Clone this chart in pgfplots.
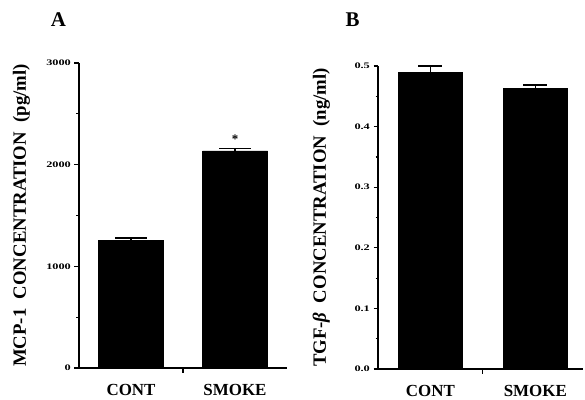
\documentclass[border=0pt]{standalone}
\usepackage{fontspec}
\setmainfont{Liberation Serif}
\usepackage{pgfplots}
\pgfplotsset{compat=1.18}
\begin{document}
\begin{tikzpicture}[x=1bp,y=1bp]
\useasboundingbox (0,0) rectangle (585,399);
\pgfplotsset{
  panel/.style={
    scale only axis,
    anchor=south west,
    axis lines=left,
    axis line style={-, line width=1.5bp, black},
    tick align=outside,
    major tick length=4.5bp,
    minor tick length=2.5bp,
    tick style={line width=1.2bp, black},
    xtick={1,2},
    xtick style={draw=none},
    extra x ticks={1.5},
    extra x tick labels={},
    extra x tick style={xtick style={draw=black, line width=1.2bp}},
    xticklabel style={font=\bfseries\fontsize{17}{19}\selectfont, anchor=base, yshift=-22.5bp, inner sep=0pt},
    yticklabel style={font=\bfseries\fontsize{8.5}{10}\selectfont, xscale=1.45, anchor=east, xshift=1bp},
    /pgf/number format/assume math mode=true,
    /pgf/number format/1000 sep={},
    every axis y label/.style={rotate=90, anchor=base, inner sep=0pt, font=\bfseries\fontsize{18.8}{20}\selectfont},
    clip=false,
  },
}
% Panel B
\node[font=\bfseries\fontsize{21}{24}\selectfont, anchor=base] at (352.5,372.5) {B};
\begin{scope}[shift={(378,30)}]
\begin{axis}[panel,
  at={(0,0)}, width=205bp, height=303bp,
  xmin=0.5, xmax=2.455, ymin=0, ymax=0.5,
  ytick={0,0.1,0.2,0.3,0.4,0.5}, minor ytick={0.05,0.15,0.25,0.35,0.45},
  yticklabel style={/pgf/number format/fixed, /pgf/number format/fixed zerofill, /pgf/number format/precision=1},
  xticklabels={CONT,SMOKE},
  every axis y label/.append style={at={(axis description cs:-0.254,0.5)}},
  ylabel={TGF-\textit{β}\ \ CONCENTRATION\ \ (ng/ml)},
  bar width=0.61,
]
\addplot[ybar, fill=black, draw=black,
  error bars/.cd, y dir=plus, y explicit,
  error bar style={line width=1.5bp, black},
  error mark options={rotate=90, mark size=12bp, line width=1.8bp, black}]
  coordinates {(1,0.490) +- (0,0.010) (2,0.463) +- (0,0.006)};
\end{axis}
\end{scope}
% Panel A
\node[font=\bfseries\fontsize{21}{24}\selectfont, anchor=base] at (58.5,372.5) {A};
\begin{scope}[shift={(79,31)}]
\begin{axis}[panel,
  at={(0,0)}, width=208bp, height=305bp,
  xmin=0.5, xmax=2.5, ymin=0, ymax=3000,
  ytick={0,1000,2000,3000}, minor ytick={500,1500,2500},
  xticklabels={CONT,SMOKE},
  every axis y label/.append style={at={(axis description cs:-0.2548,0.5)}},
  ylabel={MCP-1\ \ CONCENTRATION\ \ (pg/ml)},
  bar width=0.625,
]
\addplot[ybar, fill=black, draw=black,
  error bars/.cd, y dir=plus, y explicit,
  error bar style={line width=1.5bp, black},
  error mark options={rotate=90, mark size=16bp, line width=1.8bp, black}]
  coordinates {(1,1255) +- (0,25) (2,2135) +- (0,25)};
\node[font=\bfseries\fontsize{13}{14}\selectfont, anchor=south] at (axis cs:2,2175) {*};
\end{axis}
\end{scope}
\end{tikzpicture}
\end{document}
